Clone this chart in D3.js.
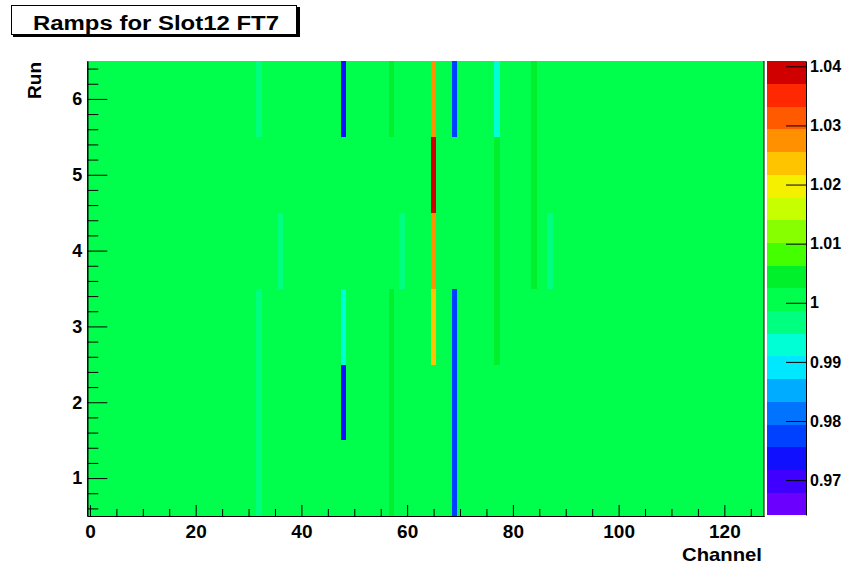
<!DOCTYPE html>
<html>
<head>
<meta charset="utf-8">
<script src="https://cdn.jsdelivr.net/npm/d3@7"></script>
<style>
  body { margin: 0; background: #fff; }
  text { font-family: "Liberation Sans", Arial, Helvetica, sans-serif; font-weight: bold; }
</style>
</head>
<body>
<div id="diagram_ramps"></div>
<script>
// ramp values per channel (0..127), one array per run
var run1 = [
  1,1,1,1,1,1,1,1,1,1,1,1,1,1,1,1,
  1,1,1,1,1,1,1,1,1,1,1,1,1,1,1,1,
  0.997,1,1,1,1,1,1,1,1,1,1,1,1,1,1,1,
  1,1,1,1,1,1,1,1,1,1.004,1,1,1,1,1,1,
  1,1,1,1,1,0.978,1,1,1,1,1,1,1,1,1,1,
  1,1,1,1,1,1,1,1,1,1,1,1,1,1,1,1,
  1,1,1,1,1,1,1,1,1,1,1,1,1,1,1,1,
  1,1,1,1,1,1,1,1,1,1,1,1,1,1,1,1
];
var run2 = [
  1,1,1,1,1,1,1,1,1,1,1,1,1,1,1,1,
  1,1,1,1,1,1,1,1,1,1,1,1,1,1,1,1,
  0.997,1,1,1,1,1,1,1,1,1,1,1,1,1,1,1,
  0.974,1,1,1,1,1,1,1,1,1.004,1,1,1,1,1,1,
  1,1,1,1,1,0.978,1,1,1,1,1,1,1,1,1,1,
  1,1,1,1,1,1,1,1,1,1,1,1,1,1,1,1,
  1,1,1,1,1,1,1,1,1,1,1,1,1,1,1,1,
  1,1,1,1,1,1,1,1,1,1,1,1,1,1,1,1
];
var run3 = [
  1,1,1,1,1,1,1,1,1,1,1,1,1,1,1,1,
  1,1,1,1,1,1,1,1,1,1,1,1,1,1,1,1,
  0.997,1,1,1,1,1,1,1,1,1,1,1,1,1,1,1,
  0.993,1,1,1,1,1,1,1,1,1.004,1,1,1,1,1,1,
  1,1.023,1,1,1,0.978,1,1,1,1,1,1,1,1.004,1,1,
  1,1,1,1,1,1,1,1,1,1,1,1,1,1,1,1,
  1,1,1,1,1,1,1,1,1,1,1,1,1,1,1,1,
  1,1,1,1,1,1,1,1,1,1,1,1,1,1,1,1
];
var run4 = [
  1,1,1,1,1,1,1,1,1,1,1,1,1,1,1,1,
  1,1,1,1,1,1,1,1,1,1,1,1,1,1,1,1,
  1,1,1,1,0.997,1,1,1,1,1,1,1,1,1,1,1,
  1,1,1,1,1,1,1,1,1,1,1,0.997,1,1,1,1,
  1,1.027,1,1,1,1,1,1,1,1,1,1,1,1.004,1,1,
  1,1,1,1,1.004,1,1,0.997,1,1,1,1,1,1,1,1,
  1,1,1,1,1,1,1,1,1,1,1,1,1,1,1,1,
  1,1,1,1,1,1,1,1,1,1,1,1,1,1,1,1
];
var run5 = [
  1,1,1,1,1,1,1,1,1,1,1,1,1,1,1,1,
  1,1,1,1,1,1,1,1,1,1,1,1,1,1,1,1,
  1,1,1,1,1,1,1,1,1,1,1,1,1,1,1,1,
  1,1,1,1,1,1,1,1,1,1,1,1,1,1,1,1,
  1,1.0405,1,1,1,1,1,1,1,1,1,1,1,1.004,1,1,
  1,1,1,1,1.004,1,1,1,1,1,1,1,1,1,1,1,
  1,1,1,1,1,1,1,1,1,1,1,1,1,1,1,1,
  1,1,1,1,1,1,1,1,1,1,1,1,1,1,1,1
];
var run6 = [
  1,1,1,1,1,1,1,1,1,1,1,1,1,1,1,1,
  1,1,1,1,1,1,1,1,1,1,1,1,1,1,1,1,
  0.997,1,1,1,1,1,1,1,1,1,1,1,1,1,1,1,
  0.974,1,1,1,1,1,1,1,1,1.004,1,1,1,1,1,1,
  1,1.027,1,1,1,0.978,1,1,1,1,1,1,1,0.993,1,1,
  1,1,1,1,1.004,1,1,1,1,1,1,1,1,1,1,1,
  1,1,1,1,1,1,1,1,1,1,1,1,1,1,1,1,
  1,1,1,1,1,1,1,1,1,1,1,1,1,1,1,1
];
var runs = [run1, run2, run3, run4, run5, run6];

// tick labels
var xTicks = [0, 20, 40, 60, 80, 100, 120];
var yTicks = [1, 2, 3, 4, 5, 6];
var zTicks = [0.97, 0.98, 0.99, 1, 1.01, 1.02, 1.03, 1.04];
var zMin = 0.9641, zMax = 1.0409;

// 20 colour bands, violet -> dark red (root "pretty" palette look)
var palette = ["#6c00ff","#4000ff","#1010ff","#0040ff","#0074ff","#00acff","#00e8ff","#00ffd4",
               "#00ff80","#00ff4c","#00f02c","#44ff00","#88ff00","#c8ff00","#f4f000","#ffc400",
               "#ff9000","#ff5a00","#ff2800","#d00000"];

var margin = {top: 61, right: 90, bottom: 56, left: 87.3},
    width = 764 - margin.left,
    height = 516 - margin.top;

var svg = d3.select("#diagram_ramps").append("svg")
  .attr("width", 854)
  .attr("height", 572);

var xScale = d3.scaleLinear().domain([-0.5, 127.5]).range([margin.left, margin.left + width]);
var yScale = d3.scaleLinear().domain([0.5, 6.5]).range([margin.top + height, margin.top]);
var zScale = d3.scaleLinear().domain([zMin, zMax]).range([515, 61]);
var color = d3.scaleQuantize().domain([zMin, zMax]).range(palette);

// cells
var cells = [];
runs.forEach(function(vals, r){
  vals.forEach(function(v, c){ cells.push({ch: c, run: r + 1, v: v}); });
});
svg.append("g").selectAll("rect").data(cells).enter().append("rect")
  .attr("x", function(d){ return xScale(d.ch - 0.5); })
  .attr("y", function(d){ return yScale(d.run + 0.5); })
  .attr("width", function(d){ return xScale(d.ch + 0.5) - xScale(d.ch - 0.5) + 0.3; })
  .attr("height", function(d){ return yScale(d.run - 0.5) - yScale(d.run + 0.5) + 0.3; })
  .attr("fill", function(d){ return color(d.v); })
  .attr("shape-rendering", "crispEdges");

// frame right side
svg.append("line")
  .attr("x1", margin.left + width).attr("x2", margin.left + width)
  .attr("y1", margin.top).attr("y2", margin.top + height)
  .attr("stroke", "#000");

// x axis, ticks inside
var xMinor = d3.range(5, 128, 5).filter(function(v){ return v % 20 != 0; });
svg.append("g").attr("transform", "translate(0," + (margin.top + height) + ")")
  .call(d3.axisBottom(xScale).tickValues(xMinor).tickSize(-7).tickSizeOuter(0).tickFormat(""));
var xAxisGroup = svg.append("g").attr("transform", "translate(0," + (margin.top + height) + ")")
  .call(d3.axisBottom(xScale).tickValues(xTicks).tickSize(-11).tickSizeOuter(0).tickPadding(9));

// y axis
var yMinor = d3.range(6, 65, 2).filter(function(v){ return v % 10 != 0; }).map(function(v){ return v / 10; });
svg.append("g").attr("transform", "translate(" + margin.left + ",0)")
  .call(d3.axisLeft(yScale).tickValues(yMinor).tickSize(-11).tickSizeOuter(0).tickFormat(""));
var yAxisGroup = svg.append("g").attr("transform", "translate(" + margin.left + ",0)")
  .call(d3.axisLeft(yScale).tickValues(yTicks).tickSize(-20).tickSizeOuter(0).tickPadding(5)
    .tickFormat(d3.format("d")));

xAxisGroup.selectAll("text").attr("font-size", "19px").attr("fill", "#000");
yAxisGroup.selectAll("text").attr("font-size", "18px").attr("fill", "#000");

// palette (colour bar)
var bands = palette.map(function(c, i){
  var lo = zMin + i * (zMax - zMin) / palette.length;
  return {lo: lo, hi: lo + (zMax - zMin) / palette.length, c: c};
});
svg.append("g").selectAll("rect").data(bands).enter().append("rect")
  .attr("x", 767).attr("width", 39)
  .attr("y", function(d){ return zScale(d.hi); })
  .attr("height", function(d){ return zScale(d.lo) - zScale(d.hi) + 0.3; })
  .attr("fill", function(d){ return d.c; })
  .attr("shape-rendering", "crispEdges");
var zAxisGroup = svg.append("g").attr("transform", "translate(806,0)")
  .call(d3.axisRight(zScale).tickValues(zTicks).tickSize(-20).tickSizeOuter(0).tickPadding(4)
    .tickFormat(function(d){ return String(+d.toFixed(2)); }));
zAxisGroup.selectAll("text").attr("font-size", "16px").attr("fill", "#000");

svg.selectAll(".domain, .tick line").attr("stroke", "#000");

// axis titles
svg.append("text").attr("x", 762).attr("y", 561).attr("text-anchor", "end")
  .attr("font-size", "19px").attr("textLength", 80).attr("lengthAdjust", "spacingAndGlyphs")
  .text("Channel");
svg.append("text").attr("transform", "translate(41,62) rotate(-90)").attr("text-anchor", "end")
  .attr("font-size", "19px").text("Run");

// title box with shadow
svg.append("rect").attr("x", 13).attr("y", 7).attr("width", 287).attr("height", 30).attr("fill", "#000");
svg.append("rect").attr("x", 11.5).attr("y", 5.5).attr("width", 285).attr("height", 29)
  .attr("fill", "#fff").attr("stroke", "#000");
svg.append("text").attr("x", 156).attr("y", 30).attr("text-anchor", "middle")
  .attr("font-size", "20px").attr("textLength", 246).attr("lengthAdjust", "spacingAndGlyphs")
  .text("Ramps for Slot12 FT7");
</script>
</body>
</html>
